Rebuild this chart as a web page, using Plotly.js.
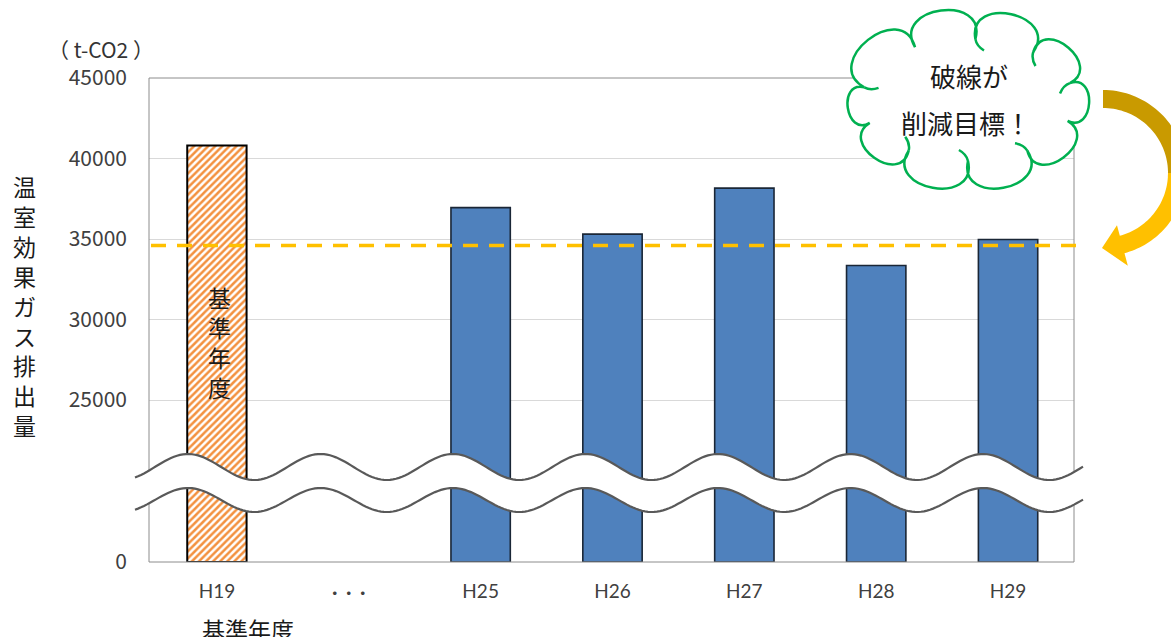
<!DOCTYPE html>
<html><head><meta charset="utf-8">
<script src="https://cdn.plot.ly/plotly-3.0.1.min.js"></script>
<style>html,body{margin:0;padding:0;background:#fff;} #chart{width:1171px;height:637px;}</style>
</head><body><div id="chart"></div>
<script>
// ---- data ----
const categories = ["H19", "・・・", "H25", "H26", "H27", "H28", "H29"];
const tickLabels = ["H19", "<span style='font-size:14px'><b>・・・</b></span>", "H25", "H26", "H27", "H28", "H29"];
const baseYearValues = [40800, null, null, null, null, null, null];
const emissionValues = [null, null, 36950, 35300, 38160, 33350, 34970];
const targetValue = 34600;
const upperTicks = [25000, 30000, 35000, 40000, 45000];
const lowerTicks = [0];
const yTitle = "温室効果ガス排出量";
const barLabel = "基準年度";
const unitLabel = "（&nbsp;t-CO2&nbsp;）";
const cloudLines = ["破線が", "削減目標！"];

// ---- geometry ----
const W = 1171, H = 637, L = 149, R = 97, T = 78, B = 75;
const PW = W - L - R, PH = H - T - B;
const px = x => (x - L) / PW;
const py = y => (H - B - y) / PH;
const splitPx = 484;                 // pixel row where the axis is broken
const splitFrac = py(splitPx);
const perPx = 20000 / (400 - T);      // value per pixel in upper part
const topMin = 45000 - (splitPx - T) * perPx;
const fontJP = '"Noto Sans CJK JP", "Noto Sans", sans-serif';

function bars(yaxis) {
  return [
    {type: 'bar', x: categories, y: baseYearValues, yaxis: yaxis, xaxis: 'x', width: 0.45,
     marker: {color: '#ffffff', pattern: {shape: '/', fgcolor: '#F3913F', bgcolor: '#ffffff', size: 5, solidity: 0.5},
              line: {color: '#000000', width: 2}}, hoverinfo: 'skip'},
    {type: 'bar', x: categories, y: emissionValues, yaxis: yaxis, xaxis: 'x', width: 0.45,
     marker: {color: '#4F81BD', line: {color: '#1A2636', width: 1.6}}, hoverinfo: 'skip'}
  ];
}
const data = bars('y').concat(bars('y2'));

// ---- decorative shapes ----
function wave(center, amp, x0, x1) {
  const pts = [];
  for (let x = x0; x <= x1 + 0.01; x += 3) {
    pts.push([x, center - amp * Math.cos(2 * Math.PI * (x - 188) / 132.5)]);
  }
  return pts;
}
const up = wave(467, 13, 135, 1083);
const lo = wave(500, 12, 135, 1083);
const fmt = p => px(p[0]).toFixed(5) + ',' + py(p[1]).toFixed(5);
const toPath = (pts, start) => pts.map((p, i) => ((i === 0 && start) ? 'M' : 'L') + fmt(p)).join(' ');
const bandPath = toPath(up, true) + ' ' + toPath(lo.slice().reverse(), false) + ' Z';

function cloudPaths(cx, cy, rx, ry, angles, curlAt) {
  const rad = Math.PI / 180;
  const P = a => [cx + rx * Math.cos(a * rad), cy + ry * Math.sin(a * rad)];
  let d = 'M' + fmt(P(angles[0]));
  const curls = [];
  for (let i = 0; i < angles.length; i++) {
    const a1 = angles[i], a2 = (i + 1 < angles.length) ? angles[i + 1] : angles[0] + 360;
    const p1 = P(a1), p2 = P(a2);
    const dx = p2[0] - p1[0], dy = p2[1] - p1[1];
    const ch = Math.hypot(dx, dy);
    const tx = dx / ch, ty = dy / ch;
    const nx = ty, ny = -tx;
    const h = ch * 0.72, s = ch * 0.3;
    const c1 = [p1[0] + nx * h - tx * s, p1[1] + ny * h - ty * s];
    const c2 = [p2[0] + nx * h + tx * s, p2[1] + ny * h + ty * s];
    d += ' C' + [c1, c2, p2].map(fmt).join(' ');
    if (curlAt.indexOf(i) >= 0) {
      const ux = -(c1[0] - p1[0]), uy = -(c1[1] - p1[1]);
      const ul = Math.hypot(ux, uy);
      const q1 = [p1[0] + ux / ul * 7, p1[1] + uy / ul * 7];
      const q2 = [p1[0] + ux / ul * 10 + tx * 7, p1[1] + uy / ul * 10 + ty * 7];
      curls.push('M' + fmt(p1) + ' Q' + fmt(q1) + ' ' + fmt(q2));
    }
  }
  return {outline: d + ' Z', curls: curls.join(' ')};
}
const cloud = cloudPaths(968, 100, 106, 61, [-120, -86, -52, -16, 20, 56, 90, 124, 158, 192], [1, 2, 3, 5, 6, 7, 9]);

const acx = 1103, acy = 173, rin = 65, rout = 83;
function arc(r, a0, a1) {
  const pts = [], n = 40;
  for (let i = 0; i <= n; i++) {
    const a = (a0 + (a1 - a0) * i / n) * Math.PI / 180;
    pts.push([acx + r * Math.cos(a), acy + r * Math.sin(a)]);
  }
  return pts;
}
const rp = (r, a) => [acx + r * Math.cos(a * Math.PI / 180), acy + r * Math.sin(a * Math.PI / 180)];
const arrowDark = toPath(arc(rout, -90, 3), true) + ' ' + toPath(arc(rin, 3, -90), false) + ' Z';
const arrowLight = toPath(arc(rout, 0, 75), true) + ' ' +
  toPath([rp(96, 75), [1102, 248], rp(54, 75)], false) + ' ' + toPath(arc(rin, 75, 0), false) + ' Z';

const shapes = [
  {type: 'rect', xref: 'paper', yref: 'paper', x0: 0, x1: 1, y0: 0, y1: 1, line: {color: '#8C8C8C', width: 1}, fillcolor: 'rgba(0,0,0,0)'},
  {type: 'line', xref: 'paper', yref: 'y', x0: px(151), x1: px(1084), y0: targetValue, y1: targetValue,
   line: {color: '#FFC000', width: 3.5, dash: '15px,11px'}},
  {type: 'path', xref: 'paper', yref: 'paper', path: bandPath, fillcolor: '#ffffff', line: {width: 0}},
  {type: 'path', xref: 'paper', yref: 'paper', path: toPath(up, true), line: {color: '#595959', width: 2.2}},
  {type: 'path', xref: 'paper', yref: 'paper', path: toPath(lo, true), line: {color: '#595959', width: 2.2}},
  {type: 'path', xref: 'paper', yref: 'paper', path: cloud.outline, fillcolor: '#ffffff', line: {color: '#00B050', width: 2.5}},
  {type: 'path', xref: 'paper', yref: 'paper', path: cloud.curls, line: {color: '#00B050', width: 2.5}},
  {type: 'path', xref: 'paper', yref: 'paper', path: arrowDark, fillcolor: '#C99A00', line: {width: 0}},
  {type: 'path', xref: 'paper', yref: 'paper', path: arrowLight, fillcolor: '#FFC000', line: {width: 0}}
];

// ---- annotations ----
const ann = [];
const txt = (text, x, y, size, color) => ann.push({xref: 'paper', yref: 'paper', x: px(x), y: py(y), text: text,
  showarrow: false, xanchor: 'center', yanchor: 'middle', font: {family: fontJP, size: size, color: color || '#1a1a1a'}});
txt(unitLabel, 101, 49, 21, '#333333');
txt(Array.from(yTitle).join('<br>'), 24, 305, 23);
txt(Array.from(barLabel).join('<br>'), 219, 342, 23);
txt(barLabel, 248, 629, 23);
txt(cloudLines[0], 969, 76, 26);
txt(cloudLines[1], 966, 122, 26);

const tickFont = {family: fontJP, size: 21, color: '#404040'};
const layout = {
  width: W, height: H, margin: {l: L, r: R, t: T, b: B}, paper_bgcolor: '#ffffff', plot_bgcolor: '#ffffff',
  showlegend: false, barmode: 'overlay',
  xaxis: {type: 'category', categoryarray: categories, tickvals: categories, ticktext: tickLabels, range: [-0.515, 6.5], anchor: 'y2',
          showgrid: false, zeroline: false, showline: false, ticks: '',
          tickfont: {family: 'Lato, "Noto Sans CJK JP"', size: 19, color: '#404040'}, ticklabelstandoff: 16, fixedrange: true},
  yaxis: {domain: [splitFrac, 1], range: [topMin, 45000], tickvals: upperTicks, ticktext: upperTicks.map(String), showgrid: true,
          gridcolor: '#D9D9D9', gridwidth: 1, zeroline: false, showline: false, ticks: '', tickfont: tickFont, ticklabelstandoff: 21, anchor: 'x', fixedrange: true},
  yaxis2: {domain: [0, splitFrac], range: [0, 5000], tickvals: lowerTicks, ticktext: lowerTicks.map(String), showgrid: false,
          zeroline: false, showline: false, ticks: '', tickfont: tickFont, ticklabelstandoff: 21, anchor: 'x', fixedrange: true},
  shapes: shapes, annotations: ann
};
Plotly.newPlot('chart', data, layout, {displayModeBar: false, staticPlot: true});
</script></body></html>
